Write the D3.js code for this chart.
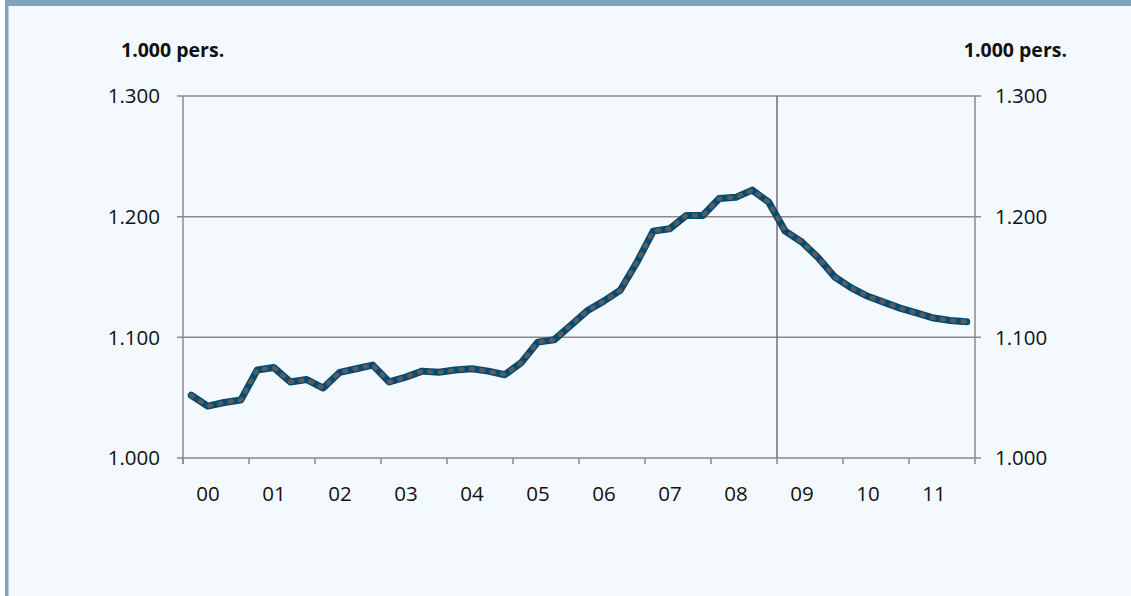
<!DOCTYPE html>
<html lang="en">
<head>
  <meta charset="UTF-8">
  <title>Employment</title>
  <script src="https://cdn.jsdelivr.net/npm/d3@7"></script>
  <style>
    html, body { margin: 0; padding: 0; background: #fff; }
    svg { display: block; font-family: "Open Sans", sans-serif; }
  </style>
</head>
<body>
  <div id="chart"></div>

  <script>
    // year labels on the x axis
    const years = ["00", "01", "02", "03", "04", "05", "06", "07", "08", "09", "10", "11"];

    // quarterly values, 1.000 persons (2000Q1 .. 2011Q4)
    const employment = [
      1052, 1043, 1046, 1048, 1073, 1075, 1063, 1065, 1058, 1071, 1074, 1077,
      1063, 1067, 1072, 1071, 1073, 1074, 1072, 1069, 1079, 1096, 1098, 1110,
      1122, 1130, 1139, 1162, 1188, 1190, 1201, 1201, 1215, 1216, 1222, 1212,
      1188, 1179, 1166, 1150, 1141, 1134, 1129, 1124, 1120, 1116, 1114, 1113
    ];

    const yTicks = [1000, 1100, 1200, 1300];
    const markerYear = 9;   // vertical line at start of 2009
    const unitLabel = "1.000 pers.";

    const W = 1131, H = 596;
    const plotL = 183, plotR = 975, plotT = 96, plotB = 458;

    const fmt = d3.formatLocale({ decimal: ",", thousands: ".", grouping: [3], currency: ["", ""] }).format(",d");

    const svg = d3.select("#chart")
      .append("svg")
        .attr("width", W)
        .attr("height", H);

    // panel background + border bars
    svg.append("rect").attr("x", 5).attr("y", 0).attr("width", W - 5).attr("height", H).attr("fill", "#f4f9fe");
    svg.append("rect").attr("x", 5).attr("y", 0).attr("width", W - 5).attr("height", 6).attr("fill", "#7fa3b8");
    svg.append("rect").attr("x", 5).attr("y", 0).attr("width", 3.5).attr("height", H).attr("fill", "#7fa3b8");

    const x = d3.scaleLinear().domain([0, years.length]).range([plotL, plotR]);
    const y = d3.scaleLinear().domain([1000, 1300]).range([plotB, plotT]);

    const grey = "#8a8a8a";

    // horizontal gridlines (with tick stubs out on both sides)
    svg.append("g")
      .selectAll("line")
      .data(yTicks)
      .join("line")
        .attr("x1", plotL - 6)
        .attr("x2", plotR + 6)
        .attr("y1", d => y(d))
        .attr("y2", d => y(d))
        .attr("stroke", grey)
        .attr("stroke-width", 1.5);

    // left / right axis lines
    svg.append("line").attr("x1", plotL).attr("x2", plotL).attr("y1", plotT).attr("y2", plotB + 6)
      .attr("stroke", grey).attr("stroke-width", 1.5);
    svg.append("line").attr("x1", plotR).attr("x2", plotR).attr("y1", plotT).attr("y2", plotB)
      .attr("stroke", grey).attr("stroke-width", 1.5);

    // x axis ticks
    svg.append("g")
      .selectAll("line")
      .data(d3.range(years.length + 1))
      .join("line")
        .attr("x1", d => x(d))
        .attr("x2", d => x(d))
        .attr("y1", plotB)
        .attr("y2", plotB + 6)
        .attr("stroke", grey)
        .attr("stroke-width", 1.5);

    // marker line
    svg.append("line")
      .attr("x1", x(markerYear)).attr("x2", x(markerYear))
      .attr("y1", plotT).attr("y2", plotB)
      .attr("stroke", "#6e6e6e").attr("stroke-width", 1.5);

    // y labels both sides
    svg.append("g")
      .selectAll("text")
      .data(yTicks)
      .join("text")
        .attr("x", plotL - 23)
        .attr("y", d => y(d))
        .attr("dy", "0.36em")
        .attr("text-anchor", "end")
        .attr("font-size", 20.5)
        .attr("fill", "#111")
        .text(d => fmt(d));

    svg.append("g")
      .selectAll("text")
      .data(yTicks)
      .join("text")
        .attr("x", plotR + 20)
        .attr("y", d => y(d))
        .attr("dy", "0.36em")
        .attr("text-anchor", "start")
        .attr("font-size", 20.5)
        .attr("fill", "#111")
        .text(d => fmt(d));

    // x labels
    svg.append("g")
      .selectAll("text")
      .data(years)
      .join("text")
        .attr("x", (d, i) => x(i + 0.5) - 8)
        .attr("y", 501)
        .attr("text-anchor", "middle")
        .attr("font-size", 20.5)
        .attr("fill", "#111")
        .text(d => d);

    // unit labels
    svg.append("text").attr("x", 121).attr("y", 57)
      .attr("font-size", 19.5).attr("font-weight", "bold").attr("fill", "#111")
      .text(unitLabel);
    svg.append("text").attr("x", 1067).attr("y", 57).attr("text-anchor", "end")
      .attr("font-size", 19.5).attr("font-weight", "bold").attr("fill", "#111")
      .text(unitLabel);

    // the series: thick blue line with grey dotted overlay
    const line = d3.line()
      .x((d, i) => x((i + 0.5) / 4))
      .y(d => y(d));

    svg.append("path")
      .datum(employment)
      .attr("d", line)
      .attr("fill", "none")
      .attr("stroke", "#054a72")
      .attr("stroke-width", 7)
      .attr("stroke-linejoin", "round")
      .attr("stroke-linecap", "round");

    svg.append("path")
      .datum(employment)
      .attr("d", line)
      .attr("fill", "none")
      .attr("stroke", "#5b5b5b")
      .attr("stroke-width", 4.5)
      .attr("stroke-linecap", "round")
      .attr("stroke-dasharray", "2 8.5");
  </script>
</body>
</html>
